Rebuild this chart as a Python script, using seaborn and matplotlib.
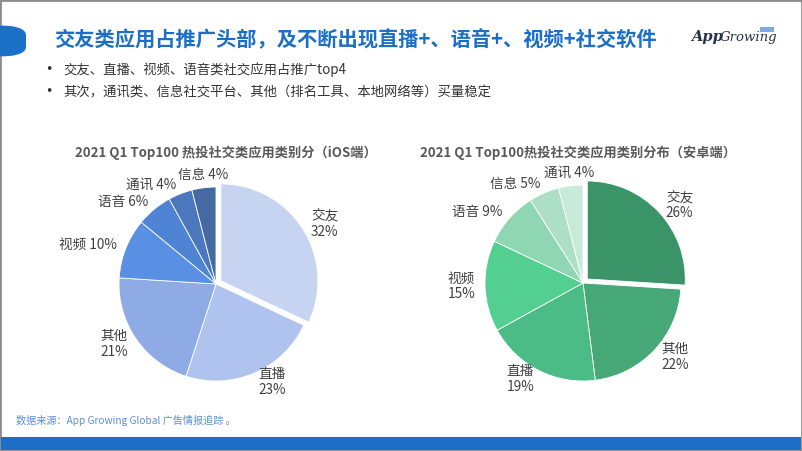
import numpy as np
import matplotlib
matplotlib.use("Agg")
import matplotlib.pyplot as plt
from matplotlib.patches import Rectangle, FancyBboxPatch
import seaborn as sns

# ---------------- data ----------------
ios_labels = ['交友', '直播', '其他', '视频', '语音', '通讯', '信息']
ios_values = [32, 23, 21, 10, 6, 4, 4]
ios_two_line = [True, True, True, False, False, False, False]

and_labels = ['交友', '其他', '直播', '视频', '语音', '信息', '通讯']
and_values = [26, 22, 19, 15, 9, 5, 4]
and_two_line = [True, True, True, True, False, False, False]

ios_colors = ['#c6d4f2', '#afc3ee', '#8eabe6', '#5a90e4', '#4f83d4', '#4b77bd', '#4569a3']
and_colors = ['#3a9467', '#47a877', '#4cbc86', '#54cf92', '#8fd7b3', '#addfc6', '#c8eada']

title_text = '交友类应用占推广头部，及不断出现直播+、语音+、视频+社交软件'
bullet_texts = ['交友、直播、视频、语音类社交应用占推广top4',
                '其次，通讯类、信息社交平台、其他（排名工具、本地网络等）买量稳定']
ios_title = '2021 Q1 Top100 热投社交类应用类别分（iOS端）'
and_title = '2021 Q1 Top100热投社交类应用类别分布（安卓端）'
footer_text = '数据来源：App Growing Global 广告情报追踪 。'

# ---------------- style ----------------
sns.set_theme(style="white")
plt.rcParams['font.family'] = ['Noto Sans CJK SC', 'DejaVu Sans']

W, H = 802, 451
fig = plt.figure(figsize=(W / 100, H / 100), dpi=100)
fig.patch.set_facecolor('white')


def fx(px):
    return px / W


def fy(py):
    return 1 - py / H


# background decorations
fig.patches.append(Rectangle((0, 0), 1, 1, transform=fig.transFigure,
                             facecolor='none', edgecolor='#8c8c8c', lw=2.0, zorder=0))
fig.patches.append(Rectangle((fx(1), fy(450)), fx(800), (450 - 437) / H, transform=fig.transFigure,
                             facecolor='#1b6fc6', edgecolor='none', zorder=1))
fig.patches.append(FancyBboxPatch((fx(-20), fy(57)), fx(46), 32 / H, transform=fig.transFigure,
                                  boxstyle="round,pad=0,rounding_size=0.04",
                                  mutation_aspect=H / W,
                                  facecolor='#1b6fc6', edgecolor='none', zorder=1))

# title
fig.text(fx(54), fy(40), title_text, fontsize=14.6, fontweight='bold', color='#1b6fc6',
         ha='left', va='center')
# logo
fig.text(fx(691), fy(37), 'App', fontsize=10.5, fontstyle='italic', fontweight='bold',
         color='#26324a', ha='left', va='center', family=['DejaVu Serif'])
fig.text(fx(720), fy(38), 'Growing', fontsize=9.5, fontstyle='italic',
         color='#26324a', ha='left', va='center', family=['DejaVu Serif'])
fig.patches.append(Rectangle((fx(760), fy(32)), fx(14), 5 / H, transform=fig.transFigure,
                             facecolor='#7fa8e0', edgecolor='none'))

# bullets
for i, t in enumerate(bullet_texts):
    y = 70 + i * 22
    fig.text(fx(45), fy(y), '•', fontsize=9, color='#333333', ha='left', va='center',
             family=['DejaVu Sans'])
    fig.text(fx(63), fy(y), t, fontsize=9.6, color='#333333', ha='left', va='center')

# footer
fig.text(fx(16), fy(421), footer_text, fontsize=7.3, color='#5b8fd6', ha='left', va='center')


def draw_pie(cx, cy, r_px, labels, values, colors, two_line, title, title_x):
    size = 260
    ax = fig.add_axes([fx(cx - size / 2), fy(cy + size / 2), size / W, size / H])
    L = size / (2 * r_px)
    explode = [0.06] + [0] * (len(values) - 1)
    wedges, _ = ax.pie(values, colors=colors, startangle=90, counterclock=False,
                       explode=explode,
                       wedgeprops=dict(edgecolor='white', linewidth=0.6))
    ax.set_xlim(-L, L)
    ax.set_ylim(-L, L)
    ax.set_aspect('equal')
    ax.axis('off')
    for w, lab, v, tl in zip(wedges, labels, values, two_line):
        th = np.deg2rad((w.theta1 + w.theta2) / 2)
        c, s = np.cos(th), np.sin(th)
        d = 1.1
        x = w.center[0] + d * c
        y = w.center[1] + d * s
        if abs(c) < 0.2:
            ha = 'center'
            y += 0.03 * np.sign(s)
        else:
            ha = 'left' if c > 0 else 'right'
        txt = f'{lab}\n{v}%' if tl else f'{lab} {v}%'
        ax.text(x, y, txt, ha=ha, va='center', multialignment='center',
                fontsize=9.8, color='#404040', linespacing=1.15)
    fig.text(fx(title_x), fy(153), title, fontsize=9.5, fontweight='bold', color='#595959',
             ha='center', va='center')


draw_pie(216, 284, 97, ios_labels, ios_values, ios_colors, ios_two_line, ios_title, 226)
draw_pie(583, 283, 98, and_labels, and_values, and_colors, and_two_line, and_title, 578)

fig.savefig('out.png', dpi=100, facecolor='white')
